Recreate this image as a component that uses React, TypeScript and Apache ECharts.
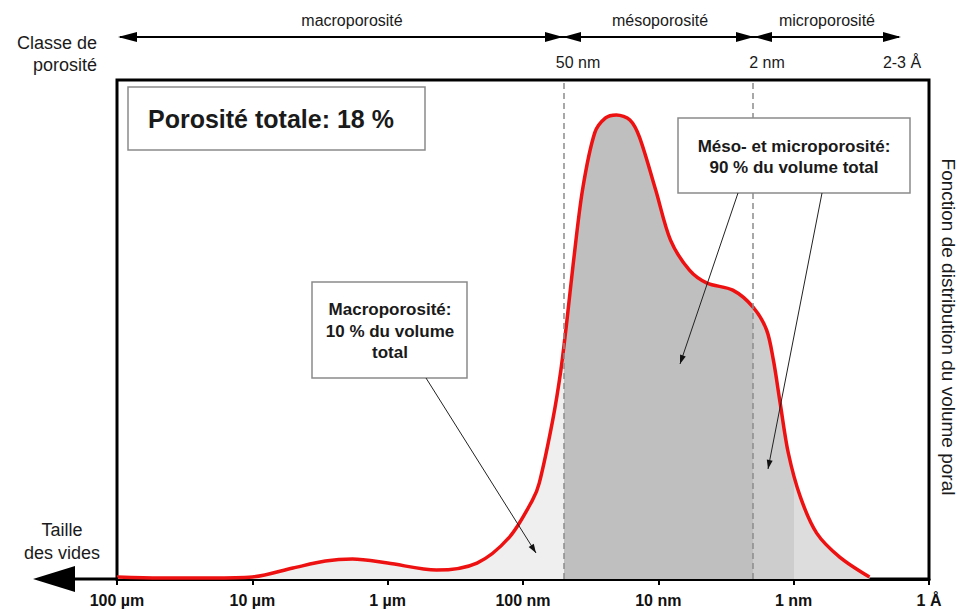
import React, { useEffect, useRef } from 'react';
import * as echarts from 'echarts';

// x: pore size expressed in decades below 100 µm (0 = 100 µm ... 6 = 1 Å)
const tickLabels = ['100 µm', '10 µm', '1 µm', '100 nm', '10 nm', '1 nm', '1 Å'];
const poreSizeDecades = [
  0, 0.32, 0.69, 1.0, 1.3, 1.54, 1.74, 2.0, 2.36, 2.66, 2.9, 3.07, 3.12, 3.22, 3.28, 3.325,
  3.37, 3.44, 3.53, 3.61, 3.69, 3.79, 3.86, 3.98, 4.09, 4.23, 4.36, 4.55, 4.7, 4.8, 4.85,
  4.9, 4.96, 5.05, 5.17, 5.34, 5.56,
];
const volumeDistribution = [
  0.4, 0.2, 0.2, 0.4, 2.2, 3.6, 4.0, 3.2, 1.8, 3.2, 8.4, 15.8, 19.2, 31.9, 41.9, 51.9,
  62.9, 78.0, 89.4, 92.4, 93.0, 92.0, 88.6, 78.0, 67.9, 61.9, 59.3, 57.9, 54.5, 49.9, 43.9,
  35.3, 25.3, 16.4, 9.2, 4.4, 0.4,
];
// class boundaries: 50 nm and 2 nm ; 1 nm shading change
const classBoundaries = [3.301, 4.699];
const shadeBreak = 5;

const topClasses = ['macroporosité', 'mésoporosité', 'microporosité'];
const topMarks = ['50 nm', '2 nm', '2-3 Å'];

const FONT = '"Liberation Sans", Arial, Helvetica, sans-serif';

function arrowHead(x1: number, y1: number, x2: number, y2: number, len = 9, half = 3) {
  const dx = x2 - x1;
  const dy = y2 - y1;
  const L = Math.hypot(dx, dy);
  const ux = dx / L;
  const uy = dy / L;
  const bx = x2 - ux * len;
  const by = y2 - uy * len;
  return [
    [x2, y2],
    [bx - uy * half, by + ux * half],
    [bx + uy * half, by - ux * half],
  ];
}

function pointer(x1: number, y1: number, x2: number, y2: number) {
  return [
    { type: 'line', z: 100, shape: { x1, y1, x2, y2 }, style: { stroke: '#222', lineWidth: 1 } },
    { type: 'polygon', z: 100, shape: { points: arrowHead(x1, y1, x2, y2) }, style: { fill: '#111' } },
  ];
}

function txt(
  x: number,
  y: number,
  text: string,
  size: number,
  align: string,
  weight = 'normal',
  extra: any = {}
) {
  return {
    type: 'text',
    x,
    y,
    z: 101,
    ...extra,
    style: {
      text,
      fill: '#1a1a1a',
      fontFamily: FONT,
      fontSize: size,
      fontWeight: weight,
      align,
      textAlign: align,
      verticalAlign: 'middle',
      textVerticalAlign: 'middle',
      lineHeight: extra.lineHeight || size * 1.2,
    },
  };
}

function tri(points: number[][]) {
  return { type: 'polygon', z: 100, shape: { points }, style: { fill: '#000' } };
}

export default function App() {
  const ref = useRef<HTMLDivElement>(null);

  useEffect(() => {
    if (!ref.current) return;
    const chart = echarts.init(ref.current, undefined, { renderer: 'svg' });
    const data = poreSizeDecades.map((d, i) => [d, volumeDistribution[i]]);

    const ay = 37;
    const graphic: any[] = [
      // bottom axis extension with arrow (Taille des vides)
      { type: 'line', z: 100, shape: { x1: 70, y1: 579, x2: 118, y2: 579 }, style: { stroke: '#000', lineWidth: 3 } },
      tri([[33, 579], [75, 566], [75, 592]]),
      // top class arrows
      { type: 'line', z: 100, shape: { x1: 120, y1: ay, x2: 899, y2: ay }, style: { stroke: '#000', lineWidth: 2 } },
      tri([[118, ay], [137, ay - 5], [137, ay + 5]]),
      tri([[563, ay], [545, ay - 5], [545, ay + 5]]),
      tri([[563, ay], [581, ay - 5], [581, ay + 5]]),
      tri([[754, ay], [736, ay - 5], [736, ay + 5]]),
      tri([[754, ay], [772, ay - 5], [772, ay + 5]]),
      tri([[901, ay], [883, ay - 5], [883, ay + 5]]),
      txt(352, 20, topClasses[0], 16, 'center'),
      txt(660, 20, topClasses[1], 16, 'center'),
      txt(827, 20, topClasses[2], 16, 'center'),
      txt(578, 62, topMarks[0], 16, 'center'),
      txt(767, 62, topMarks[1], 16, 'center'),
      txt(902, 62, topMarks[2], 16, 'center'),
      txt(97, 43, 'Classe de', 18, 'right'),
      txt(97, 65, 'porosité', 18, 'right'),
      txt(62, 530, 'Taille', 18, 'center'),
      txt(62, 553, 'des vides', 18, 'center'),
      // right vertical title
      txt(948, 327, 'Fonction de distribution du volume poral', 19, 'center', 'normal', { rotation: -Math.PI / 2 }),
      // boxes
      { type: 'rect', z: 99, shape: { x: 128, y: 87, width: 297, height: 63 }, style: { fill: '#fff', stroke: '#8a8a8a', lineWidth: 1.5 } },
      txt(148, 119, 'Porosité totale: 18 %', 25, 'left', 'bold'),
      { type: 'rect', z: 99, shape: { x: 678, y: 118, width: 232, height: 75 }, style: { fill: '#fff', stroke: '#8a8a8a', lineWidth: 1.5 } },
      txt(794, 157, 'Méso- et microporosité:\n90 % du volume total', 17, 'center', 'bold', { lineHeight: 21 }),
      { type: 'rect', z: 99, shape: { x: 312, y: 282, width: 155, height: 96 }, style: { fill: '#fff', stroke: '#8a8a8a', lineWidth: 1.5 } },
      txt(390, 331, 'Macroporosité:\n10 % du volume\ntotal', 17, 'center', 'bold', { lineHeight: 21.5 }),
      ...pointer(426, 378, 536, 553),
      ...pointer(738, 193, 680, 364),
      ...pointer(822, 193, 768, 469),
    ];

    chart.setOption({
      animation: false,
      grid: {
        left: 117,
        right: 30,
        top: 80,
        bottom: 33,
        show: true,
        borderColor: '#000',
        borderWidth: 3,
        backgroundColor: 'transparent',
      },
      xAxis: {
        type: 'value',
        min: 0,
        max: 6,
        interval: 1,
        axisLine: { show: true, lineStyle: { color: '#000', width: 3 } },
        axisTick: { show: true, length: 6, lineStyle: { color: '#000', width: 2 } },
        splitLine: { show: false },
        axisLabel: {
          margin: 13,
          color: '#111',
          fontFamily: FONT,
          fontSize: 16,
          fontWeight: 'bold',
          formatter: (v: number) => tickLabels[Math.round(v)] ?? '',
        },
      },
      yAxis: {
        type: 'value',
        min: 0,
        max: 100,
        show: false,
        splitLine: { show: false },
      },
      visualMap: {
        type: 'piecewise',
        show: false,
        dimension: 0,
        seriesIndex: 0,
        pieces: [
          { lt: classBoundaries[0], color: '#efefef' },
          { gte: classBoundaries[0], lt: classBoundaries[1], color: '#bfbfbf' },
          { gte: classBoundaries[1], lt: shadeBreak, color: '#cdcdcd' },
          { gte: shadeBreak, color: '#dddddd' },
        ],
      },
      series: [
        {
          type: 'line',
          data,
          smooth: 0.3,
          symbol: 'none',
          silent: true,
          z: 1,
          lineStyle: { width: 0, opacity: 0 },
          areaStyle: { opacity: 1 },
          markLine: {
            silent: true,
            symbol: 'none',
            label: { show: false },
            lineStyle: { color: '#8c8c8c', type: [6, 4], width: 1.5 },
            data: classBoundaries.map((b) => ({ xAxis: b })),
          },
        },
        {
          type: 'line',
          data,
          smooth: 0.3,
          symbol: 'none',
          silent: true,
          z: 3,
          lineStyle: { color: '#ee1111', width: 3.5 },
        },
      ],
      graphic,
    });

    return () => chart.dispose();
  }, []);

  return (
    <div
      ref={ref}
      style={{ position: 'fixed', left: 0, top: 0, width: 959, height: 612, background: '#fff' }}
    />
  );
}
